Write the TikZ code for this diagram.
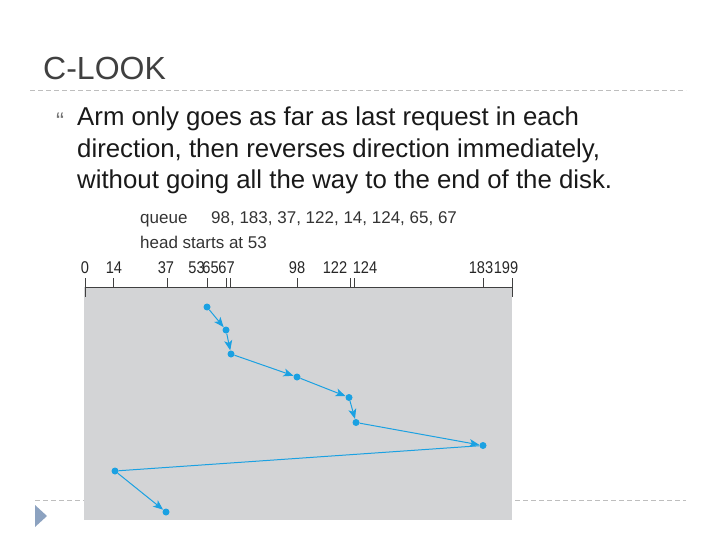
\documentclass[tikz,border=0pt]{standalone}
\usepackage{fontspec}
\setmainfont{Liberation Sans}
\newfontfamily\narrowfont[FakeStretch=0.86]{Liberation Sans}
\usepackage{tikz}
\usetikzlibrary{arrows.meta, positioning}

\definecolor{SeekBlue}{RGB}{27,161,226}
\definecolor{PlateGray}{RGB}{211,212,214}
\definecolor{RuleGray}{RGB}{190,190,190}
\definecolor{MarkBlue}{RGB}{140,162,192}
\definecolor{TitleGray}{RGB}{64,64,64}

\begin{document}
\begin{tikzpicture}[x=1pt, y=-1pt,
        req/.style={circle, fill=SeekBlue, inner sep=0pt, minimum size=7pt},
        seek/.style={SeekBlue, line width=1pt, -{Stealth[length=10pt, width=8pt, inset=2.5pt]}},
        jump/.style={SeekBlue, line width=1pt},
        rule/.style={RuleGray, line width=0.8pt, dash pattern=on 5pt off 3pt},
        body/.style={anchor=base west, inner sep=0pt, text=black!90, font=\fontsize{25.8}{30}\selectfont},
        small/.style={anchor=base west, inner sep=0pt, text=black!80, font=\fontsize{17}{19}\selectfont},
        num/.style={anchor=base, inner sep=0pt, text=black!85, font=\narrowfont\fontsize{17}{19}\selectfont},
        tick/.style={black!75, line width=0.7pt}]
    \useasboundingbox (0,0) rectangle (720,540);

    % === Slide frame ===
    \node[anchor=base west, inner sep=0pt, text=TitleGray, font=\fontsize{32}{36}\selectfont] (title) at (43,80) {C-LOOK};
    \draw[rule] (30,90) -- (686,90);
    \draw[rule] (35,500) -- (686,500);
    \fill[MarkBlue] (35,505) -- (35,527) -- (47,516) -- cycle;

    % === Bullet text ===
    \node[inner sep=0pt, text=black!55, font=\fontsize{24}{26}\selectfont] (bullet) at (60,121) {\textquotedblleft};
    \node[body] (line1) at (77,126) {Arm only goes as far as last request in each};
    \node[body] (line2) at (77,158) {direction, then reverses direction immediately,};
    \node[body] (line3) at (77,189) {without going all the way to the end of the disk.};

    % === Disk plate ===
    \fill[PlateGray] (84,287) rectangle (512,520);
    \node[small] (queue) at (140,224) {queue};
    \node[small] (list) at (211,224) {98, 183, 37, 122, 14, 124, 65, 67};
    \node[small] (head) at (140,248) {head starts at 53};

    % cylinder axis: value / tick x / label x
    \draw[tick] (85,287) -- (512,287);
    \foreach \v/\x/\lx in {0/85/85, 14/113/114, 37/167/166, 53/207/196.5, 65/226/210.5,
            67/230/226.5, 98/297/297, 122/350/335, 124/354/365, 183/483/481, 199/512/506} {
        \draw[tick] (\x,278) -- (\x,287);
        \node[num] (lab\v) at (\lx,273) {\v};
    }
    \draw[tick] (85,287) -- (85,297);
    \draw[tick] (512,287) -- (512,297);

    % === Requests in service order ===
    \node[req] (c53) at (207,307) {};
    \node[req] (c65) at (226,330) {};
    \node[req] (c67) at (231,354) {};
    \node[req] (c98) at (297,377) {};
    \node[req] (c122) at (349,397.5) {};
    \node[req] (c124) at (356,422.5) {};
    \node[req] (c183) at (483,445.5) {};
    \node[req] (c14) at (115,471) {};
    \node[req] (c37) at (166,512) {};

    \draw[seek] (c53) -- (c65);
    \draw[seek] (c65) -- (c67);
    \draw[seek] (c67) -- (c98);
    \draw[seek] (c98) -- (c122);
    \draw[seek] (c122) -- (c124);
    \draw[seek] (c124) -- (c183);
    \draw[jump] (c183) -- (c14); % wrap back, no head
    \draw[seek] (c14) -- (c37);
\end{tikzpicture}
\end{document}
